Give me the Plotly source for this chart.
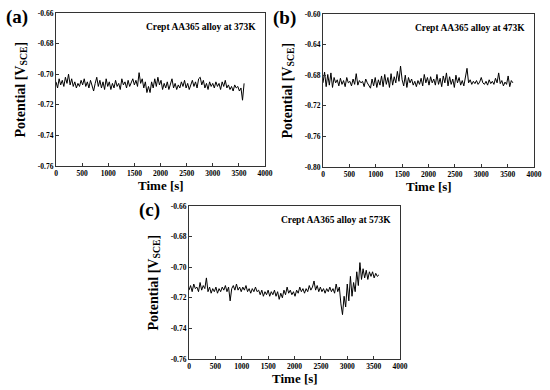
import plotly.graph_objects as go

time_s = [i * 30 for i in range(121)]

pot_373 = [
    -0.705, -0.709, -0.703, -0.707, -0.704, -0.708, -0.702, -0.706, -0.700, -0.707,
    -0.703, -0.708, -0.705, -0.709, -0.706, -0.708, -0.704, -0.707, -0.703, -0.708,
    -0.705, -0.709, -0.704, -0.707, -0.711, -0.706, -0.702, -0.708, -0.704, -0.709,
    -0.705, -0.710, -0.703, -0.708, -0.705, -0.710, -0.706, -0.709, -0.704, -0.708,
    -0.706, -0.710, -0.703, -0.707, -0.705, -0.709, -0.704, -0.708, -0.706, -0.703,
    -0.707, -0.704, -0.708, -0.699, -0.706, -0.703, -0.709, -0.705, -0.712, -0.708,
    -0.712, -0.705, -0.709, -0.703, -0.708, -0.702, -0.707, -0.704, -0.710, -0.706,
    -0.709, -0.705, -0.710, -0.707, -0.703, -0.709, -0.706, -0.710, -0.707, -0.709,
    -0.705, -0.708, -0.704, -0.709, -0.706, -0.710, -0.707, -0.704, -0.708, -0.705,
    -0.709, -0.703, -0.702, -0.707, -0.704, -0.709, -0.706, -0.710, -0.705, -0.708,
    -0.706, -0.709, -0.705, -0.708, -0.706, -0.710, -0.705, -0.708, -0.704, -0.709,
    -0.707, -0.710, -0.708, -0.711, -0.707, -0.709, -0.708, -0.711, -0.709, -0.717, -0.706,
]

pot_473 = [
    -0.690, -0.676, -0.695, -0.679, -0.693, -0.677, -0.696, -0.683, -0.690, -0.686,
    -0.694, -0.684, -0.692, -0.687, -0.695, -0.683, -0.690, -0.688, -0.694, -0.685,
    -0.692, -0.678, -0.693, -0.687, -0.690, -0.688, -0.695, -0.685, -0.690, -0.693,
    -0.697, -0.685, -0.694, -0.683, -0.696, -0.686, -0.693, -0.681, -0.695, -0.679,
    -0.692, -0.683, -0.696, -0.678, -0.693, -0.682, -0.690, -0.675, -0.688, -0.668,
    -0.686, -0.694, -0.680, -0.696, -0.683, -0.690, -0.685, -0.693, -0.688, -0.695,
    -0.687, -0.692, -0.684, -0.694, -0.679, -0.690, -0.683, -0.693, -0.682, -0.690,
    -0.685, -0.693, -0.679, -0.692, -0.684, -0.695, -0.681, -0.690, -0.677, -0.694,
    -0.682, -0.692, -0.685, -0.696, -0.680, -0.690, -0.683, -0.693, -0.687, -0.694,
    -0.684, -0.671, -0.690, -0.686, -0.692, -0.688, -0.691, -0.687, -0.692, -0.689,
    -0.683, -0.690, -0.692, -0.688, -0.693, -0.686, -0.691, -0.688, -0.692, -0.684,
    -0.690, -0.677, -0.691, -0.687, -0.694, -0.689, -0.692, -0.681, -0.695, -0.687, -0.690,
]

pot_573 = [
    -0.715, -0.712, -0.716, -0.711, -0.714, -0.713, -0.716, -0.710, -0.715, -0.712,
    -0.714, -0.707, -0.716, -0.713, -0.717, -0.714, -0.716, -0.713, -0.717, -0.714,
    -0.716, -0.713, -0.715, -0.712, -0.716, -0.713, -0.722, -0.714, -0.712, -0.715,
    -0.711, -0.715, -0.713, -0.716, -0.713, -0.715, -0.712, -0.716, -0.714, -0.717,
    -0.714, -0.716, -0.713, -0.716, -0.715, -0.718, -0.715, -0.719, -0.716, -0.718,
    -0.715, -0.719, -0.716, -0.718, -0.715, -0.719, -0.716, -0.721, -0.717, -0.720,
    -0.715, -0.718, -0.713, -0.717, -0.715, -0.718, -0.716, -0.719, -0.715, -0.717,
    -0.713, -0.716, -0.714, -0.717, -0.714, -0.716, -0.712, -0.715, -0.713, -0.709,
    -0.715, -0.712, -0.716, -0.713, -0.716, -0.714, -0.717, -0.714, -0.716, -0.713,
    -0.716, -0.714, -0.717, -0.711, -0.716, -0.713, -0.724, -0.731, -0.719, -0.726,
    -0.711, -0.722, -0.706, -0.719, -0.710, -0.716, -0.703, -0.712, -0.697, -0.708,
    -0.701, -0.707, -0.702, -0.708, -0.703, -0.706, -0.703, -0.707, -0.704, -0.706, -0.705,
]

panel_labels = ["(a)", "(b)", "(c)"]
panel_notes = ["Crept AA365 alloy at 373K", "Crept AA365 alloy at 473K", "Crept AA365 alloy at 573K"]
x_ticks = [0, 500, 1000, 1500, 2000, 2500, 3000, 3500, 4000]
y_ticks_a = [-0.76, -0.74, -0.72, -0.70, -0.68, -0.66]
y_ticks_b = [-0.80, -0.76, -0.72, -0.68, -0.64, -0.60]
y_ticks_c = [-0.76, -0.74, -0.72, -0.70, -0.68, -0.66]

FONT = "Liberation Serif"
W, H = 550, 390

fig = go.Figure()
series = [pot_373, pot_473, pot_573]
axes = [("x", "y"), ("x2", "y2"), ("x3", "y3")]
for s, (xa, ya) in zip(series, axes):
    fig.add_trace(go.Scatter(x=time_s, y=s, mode="lines", xaxis=xa, yaxis=ya,
                             line=dict(color="black", width=1), showlegend=False))

# plot-area boxes in pixels: (left, right, top, bottom)
boxes = [(56, 265, 13, 166), (323, 534, 14, 167), (189, 400, 206, 359)]
domains = [([l / W, r / W], [1 - b / H, 1 - t / H]) for l, r, t, b in boxes]
yticks = [y_ticks_a, y_ticks_b, y_ticks_c]

common_axis = dict(showline=True, linecolor="#333", linewidth=1.2, mirror=True,
                   ticks="inside", ticklen=3, tickcolor="#333", showgrid=False,
                   zeroline=False, tickfont=dict(family=FONT, size=7.5, color="black"))

layout = dict(width=W, height=H, margin=dict(l=0, r=0, t=0, b=0, autoexpand=False),
              plot_bgcolor="white", paper_bgcolor="white", showlegend=False)
for i, ((dx, dy), yt) in enumerate(zip(domains, yticks)):
    sfx = "" if i == 0 else str(i + 1)
    layout["xaxis" + sfx] = dict(common_axis, domain=dx, range=[0, 4000], tickvals=x_ticks,
                                 ticktext=["<b>%d</b>" % v for v in x_ticks],
                                 anchor="y" + sfx, automargin=False)
    layout["yaxis" + sfx] = dict(common_axis, domain=dy, range=[yt[0], yt[-1]], tickvals=yt,
                                 ticktext=["<b>%.2f</b>" % v for v in yt],
                                 anchor="x" + sfx, automargin=False)
fig.update_layout(**layout)

ytitle = "<b>Potential [V<sub>SCE</sub>]</b>"
for i, ((l, r, t, b), lab, note) in enumerate(zip(boxes, panel_labels, panel_notes)):
    sfx = "" if i == 0 else str(i + 1)
    # panel label
    fig.add_annotation(x=(l - 52) / W, y=1 - (t + 4) / H, xref="paper", yref="paper",
                       text="<b>" + lab + "</b>", showarrow=False, xanchor="left", yanchor="middle",
                       font=dict(family=FONT, size=19, color="black"))
    # note
    fig.add_annotation(x=0.965, y=0.955, xref="x" + sfx + " domain", yref="y" + sfx + " domain",
                       text="<b>" + note + "</b>", showarrow=False, xanchor="right", yanchor="top",
                       font=dict(family=FONT, size=9.5, color="black"))
    # x title
    fig.add_annotation(x=(l + r) / 2 / W, y=1 - (b + 19) / H, xref="paper", yref="paper",
                       text="<b>Time [s]</b>", showarrow=False, xanchor="center", yanchor="middle",
                       font=dict(family=FONT, size=13, color="black"))
    # y title
    fig.add_annotation(x=(l - 35) / W, y=1 - (t + b) / 2 / H, xref="paper", yref="paper",
                       text=ytitle, showarrow=False, xanchor="center", yanchor="middle", textangle=-90,
                       font=dict(family=FONT, size=14, color="black"))

fig.write_html("out.html", config={"displayModeBar": False},
               post_script="document.body.style.margin='0';")
